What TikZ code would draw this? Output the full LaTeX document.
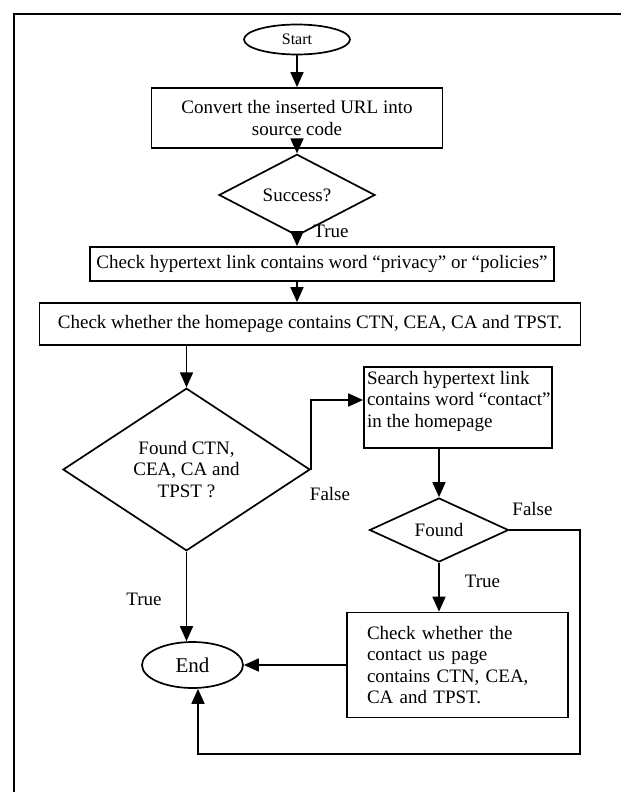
\documentclass[tikz,border=0pt]{standalone}
\usepackage{fontspec}
\setmainfont{Liberation Serif}
\usetikzlibrary{shapes.geometric,arrows.meta,calc}
\begin{document}
\begin{tikzpicture}[x=1pt,y=-1pt,line width=1.7pt,
  every node/.style={font=\fontsize{19}{21.5}\selectfont},
  proc/.style={draw, rectangle, inner sep=0pt, align=center},
  decis/.style={draw, diamond, inner sep=0pt, align=center},
  termin/.style={draw, ellipse, inner sep=0pt},
  lbl/.style={inner sep=0pt},
  arr/.style={-{Triangle[length=15pt,width=13pt]}}]
\useasboundingbox (0,0) rectangle (621,792);
% outer frame
\coordinate (fbl) at (14,792);
\coordinate (ftl) at (14,14);
\coordinate (ftr) at (621,14);
\draw[line width=2pt] (fbl) -- (ftl) -- (ftr);

\node[termin, minimum width=106pt, minimum height=30pt, font=\fontsize{16}{18}\selectfont] (start) at (297,39.5) {Start};
\node[proc, minimum width=291pt, minimum height=60pt] (convert) at (297,118) {Convert the inserted URL into\\source code};
\node[decis, minimum width=156pt, minimum height=46pt] (success) at (297,195) {Success?};
\node[proc, minimum width=464pt, minimum height=34pt] (hyper) at (322,264) {Check hypertext link contains word “privacy” or “policies”};
\node[proc, minimum width=541pt, minimum height=42pt] (check) at (310,324) {Check whether the homepage contains CTN, CEA, CA and TPST.};
\node[decis, minimum width=247pt, minimum height=141pt] (bigd) at (186.5,469.5) {Found CTN,\\CEA, CA and\\TPST ?};
\node[proc, minimum width=188pt, minimum height=81pt] (search) at (458,407.5) {};
\node[anchor=north west, align=left, inner sep=0pt] (searchtxt) at ([xshift=3pt,yshift=-4pt]search.north west) {Search hypertext link\\contains word “contact”\\in the homepage};
\node[decis, minimum width=139pt, minimum height=64pt] (found) at (439,530) {Found};
\node[draw, rectangle, inner xsep=20pt, inner ysep=0pt, text width=181pt, align=left, minimum height=105pt] (contact) at (457.5,665) {Check whether the\\contact us page\\contains CTN, CEA,\\CA and TPST.};
\node[termin, minimum width=101pt, minimum height=46pt, font=\fontsize{21}{23}\selectfont] (end) at (192.5,665) {End};

% labels
\node[lbl] (t1) at (331,231) {True};
\node[lbl] (f1) at (330,494) {False};
\node[lbl] (f2) at (532.5,509) {False};
\node[lbl] (t2) at (482.5,581) {True};
\node[lbl] (t3) at (144,599) {True};

% connectors
\draw[arr] (start) -- (convert);
\draw[arr] (convert) -- (success);
\draw[arr] (success.south) -- (success.south |- hyper.north);
\draw[arr] (success.south |- hyper.south) -- (success.south |- check.north);
\draw[arr] (bigd.north |- check.south) -- (bigd.north);
\coordinate (sin) at ([yshift=7.5pt]search.west);
\draw[arr] (bigd.east) -- (bigd.east |- sin) -- (sin);
\draw[arr] (found.north |- search.south) -- (found.north);
\draw[arr] (found.south) -- (found.south |- contact.north);
\draw[arr] (contact.west) -- (end.east);
\draw[arr] (bigd.south) -- (bigd.south |- end.north);
\coordinate (fr) at (580,754);
\coordinate (eb) at ([xshift=5.5pt]end.south);
\draw[arr] (found.east) -- (found.east -| fr) -- (fr) -- (eb |- fr) -- (eb);
\end{tikzpicture}
\end{document}
